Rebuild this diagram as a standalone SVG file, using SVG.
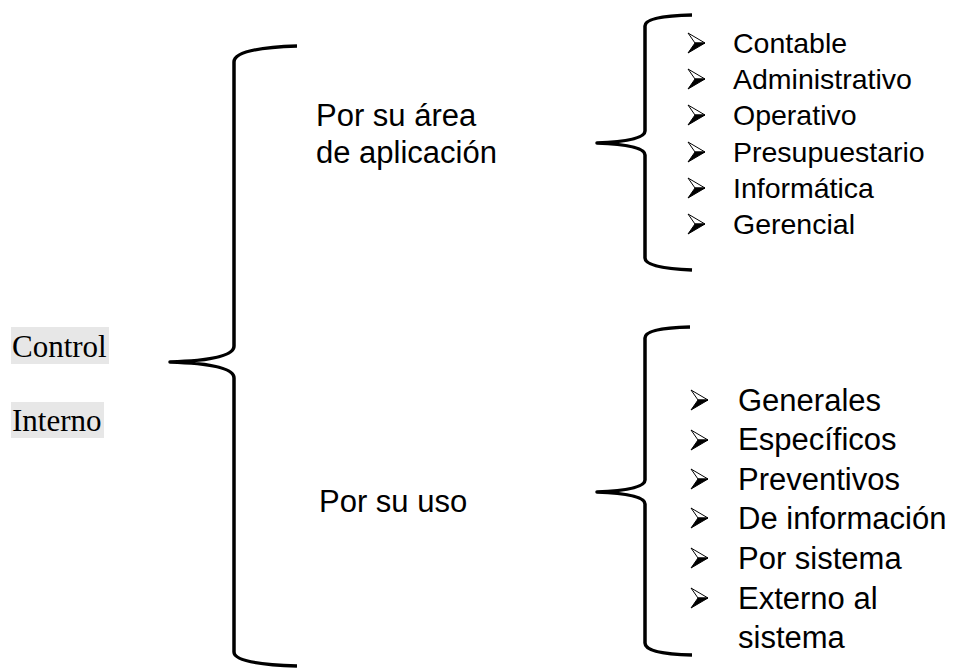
<svg xmlns="http://www.w3.org/2000/svg" width="956" height="672" viewBox="0 0 956 672">
  <style>
    .brace { fill: none; stroke: #000; stroke-width: 3.5; stroke-linecap: butt; stroke-linejoin: round; }
    .serif { font-family: "Liberation Serif", "Times New Roman", serif; font-size: 31px; fill: #000; }
    .sans { font-family: "Liberation Sans", Arial, sans-serif; fill: #000; }
    .mid { font-size: 31px; }
    .small { font-size: 28.5px; }
    .large { font-size: 31px; }
    .hl { fill: #e7e7e7; }
  </style>
  <defs>
    <!-- arrowhead bullet: outlined upper half, solid lower half -->
    <g id="bullet">
      <path d="M17,0 L0,-10 L7,0 Z" fill="#fff" stroke="#000" stroke-width="1" stroke-linejoin="miter"/>
      <path d="M17,0 L0,10 L7,0 Z" fill="#000" stroke="#000" stroke-width="1" stroke-linejoin="miter"/>
    </g>
  </defs>
  <rect width="956" height="672" fill="#fff"/>

  <g id="control-interno">
    <rect class="hl" x="11" y="327" width="98" height="37"/>
    <rect class="hl" x="11" y="402" width="93" height="36"/>
    <text class="serif" x="12" y="357">Control</text>
    <text class="serif" x="12" y="431">Interno</text>
  </g>

  <g id="connectors">
    <path class="brace" d="M297,46 Q234,48 234,62 L234,346 Q234,360 170,362 Q234,364 234,378 L234,652 Q234,664 297,666"/>
    <path class="brace" d="M692,15 Q645,16 645,26 L645,131 Q645,141 597,143 Q645,145 645,155 L645,258 Q645,268 692,270"/>
    <path class="brace" d="M690,327 Q645,328 645,338 L645,480 Q645,490 597,492 Q645,494 645,504 L645,643 Q645,654 692,655"/>
  </g>

  <g id="area-aplicacion">
    <text class="sans mid" x="316" y="126">Por su área</text>
    <text class="sans mid" x="316" y="163">de aplicación</text>
  </g>

  <g id="por-su-uso">
    <text class="sans mid" x="319" y="512">Por su uso</text>
  </g>

  <g id="lista-area">
    <use href="#bullet" x="688" y="43"/>
    <use href="#bullet" x="688" y="79"/>
    <use href="#bullet" x="688" y="115"/>
    <use href="#bullet" x="688" y="152"/>
    <use href="#bullet" x="688" y="188"/>
    <use href="#bullet" x="688" y="224"/>
    <text class="sans small" x="733" y="53">Contable</text>
    <text class="sans small" x="733" y="89">Administrativo</text>
    <text class="sans small" x="733" y="125">Operativo</text>
    <text class="sans small" x="733" y="162">Presupuestario</text>
    <text class="sans small" x="733" y="198">Informática</text>
    <text class="sans small" x="733" y="234">Gerencial</text>
  </g>

  <g id="lista-uso">
    <use href="#bullet" x="691" y="400"/>
    <use href="#bullet" x="691" y="440"/>
    <use href="#bullet" x="691" y="479"/>
    <use href="#bullet" x="691" y="518"/>
    <use href="#bullet" x="691" y="558"/>
    <use href="#bullet" x="691" y="598"/>
    <text class="sans large" x="738" y="411">Generales</text>
    <text class="sans large" x="738" y="450">Específicos</text>
    <text class="sans large" x="738" y="490">Preventivos</text>
    <text class="sans large" x="738" y="529">De información</text>
    <text class="sans large" x="738" y="569">Por sistema</text>
    <text class="sans large" x="738" y="609">Externo al</text>
    <text class="sans large" x="738" y="648">sistema</text>
  </g>
</svg>
